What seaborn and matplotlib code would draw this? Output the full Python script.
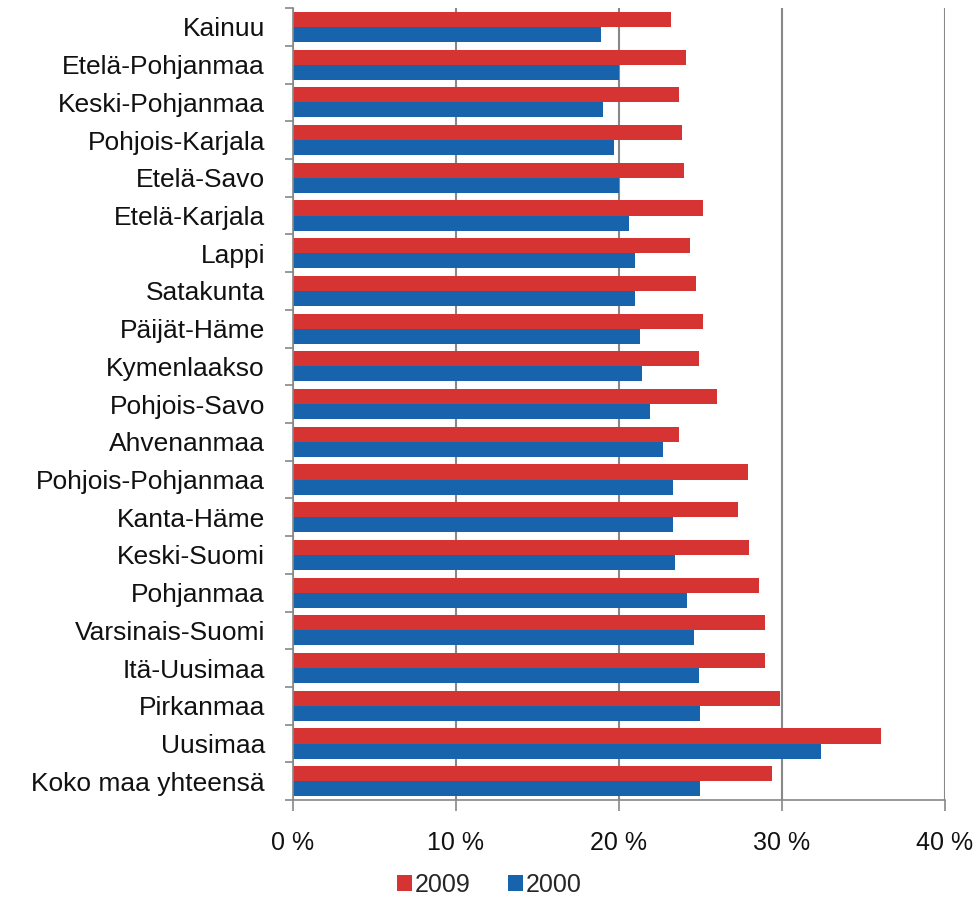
import matplotlib
matplotlib.use("Agg")
import matplotlib.pyplot as plt
import numpy as np
import pandas as pd
import seaborn as sns

REGIONS = [
    "Kainuu", "Etelä-Pohjanmaa", "Keski-Pohjanmaa", "Pohjois-Karjala",
    "Etelä-Savo", "Etelä-Karjala", "Lappi", "Satakunta", "Päijät-Häme",
    "Kymenlaakso", "Pohjois-Savo", "Ahvenanmaa", "Pohjois-Pohjanmaa",
    "Kanta-Häme", "Keski-Suomi", "Pohjanmaa", "Varsinais-Suomi",
    "Itä-Uusimaa", "Pirkanmaa", "Uusimaa", "Koko maa yhteensä",
]
VALUES_2009 = [23.2, 24.1, 23.7, 23.9, 24.0, 25.15, 24.4, 24.75, 25.15, 24.9,
               26.0, 23.7, 27.9, 27.3, 28.0, 28.6, 29.0, 29.0, 29.9, 36.1, 29.4]
VALUES_2000 = [18.9, 20.0, 19.05, 19.7, 20.0, 20.6, 21.0, 21.0, 21.3, 21.4,
               21.9, 22.7, 23.3, 23.3, 23.45, 24.2, 24.6, 24.9, 25.0, 32.4, 25.0]
YEARS = ["2009", "2000"]
COLORS = ["#D63333", "#1764AD"]
XTICKS = [0, 10, 20, 30, 40]

df = pd.DataFrame({
    "region": REGIONS * 2,
    "value": VALUES_2009 + VALUES_2000,
    "year": [YEARS[0]] * len(REGIONS) + [YEARS[1]] * len(REGIONS),
})

sns.set_style("white")
plt.rcParams["font.family"] = ["Liberation Sans", "DejaVu Sans"]

fig = plt.figure(figsize=(9.79, 8.98), dpi=100)
ax = fig.add_axes([0.299, 0.109, 0.666, 0.882])

sns.barplot(data=df, x="value", y="region", hue="year", hue_order=YEARS,
            palette=COLORS, orient="h", width=0.8, saturation=1,
            order=REGIONS, ax=ax, legend=True, linewidth=0, errorbar=None)

ax.set_xlim(0, 40)
ax.set_ylim(len(REGIONS) - 0.5, -0.5)
ax.set_xticks(XTICKS)
ax.set_xticklabels([f"{t} %" for t in XTICKS], fontsize=18)
ax.set_xlabel("")
ax.set_ylabel("")
ax.tick_params(axis="y", labelsize=19, length=0, pad=20, labelcolor="#111111")
ax.set_yticks(np.arange(-0.5, len(REGIONS), 1), minor=True)
ax.tick_params(axis="y", which="minor", left=True, length=6, width=1.2, color="#888888")
ax.tick_params(axis="x", bottom=True, length=8, width=1.2, color="#888888", pad=14,
               labelcolor="#111111")

ax.grid(axis="x", color="#888888", linewidth=1.5)
ax.set_axisbelow(True)
for s in ["top", "right"]:
    ax.spines[s].set_visible(False)
for s in ["left", "bottom"]:
    ax.spines[s].set_color("#888888")
    ax.spines[s].set_linewidth(1.2)

handles, labels = ax.get_legend_handles_labels()
ax.legend_.remove()
fig.legend(handles, labels, loc="center", bbox_to_anchor=(0.5, 0.015),
           ncol=2, frameon=False, fontsize=18, handlelength=0.6,
           handleheight=0.6, handletextpad=0.1, columnspacing=1.5)

fig.savefig("out.png", dpi=100)
